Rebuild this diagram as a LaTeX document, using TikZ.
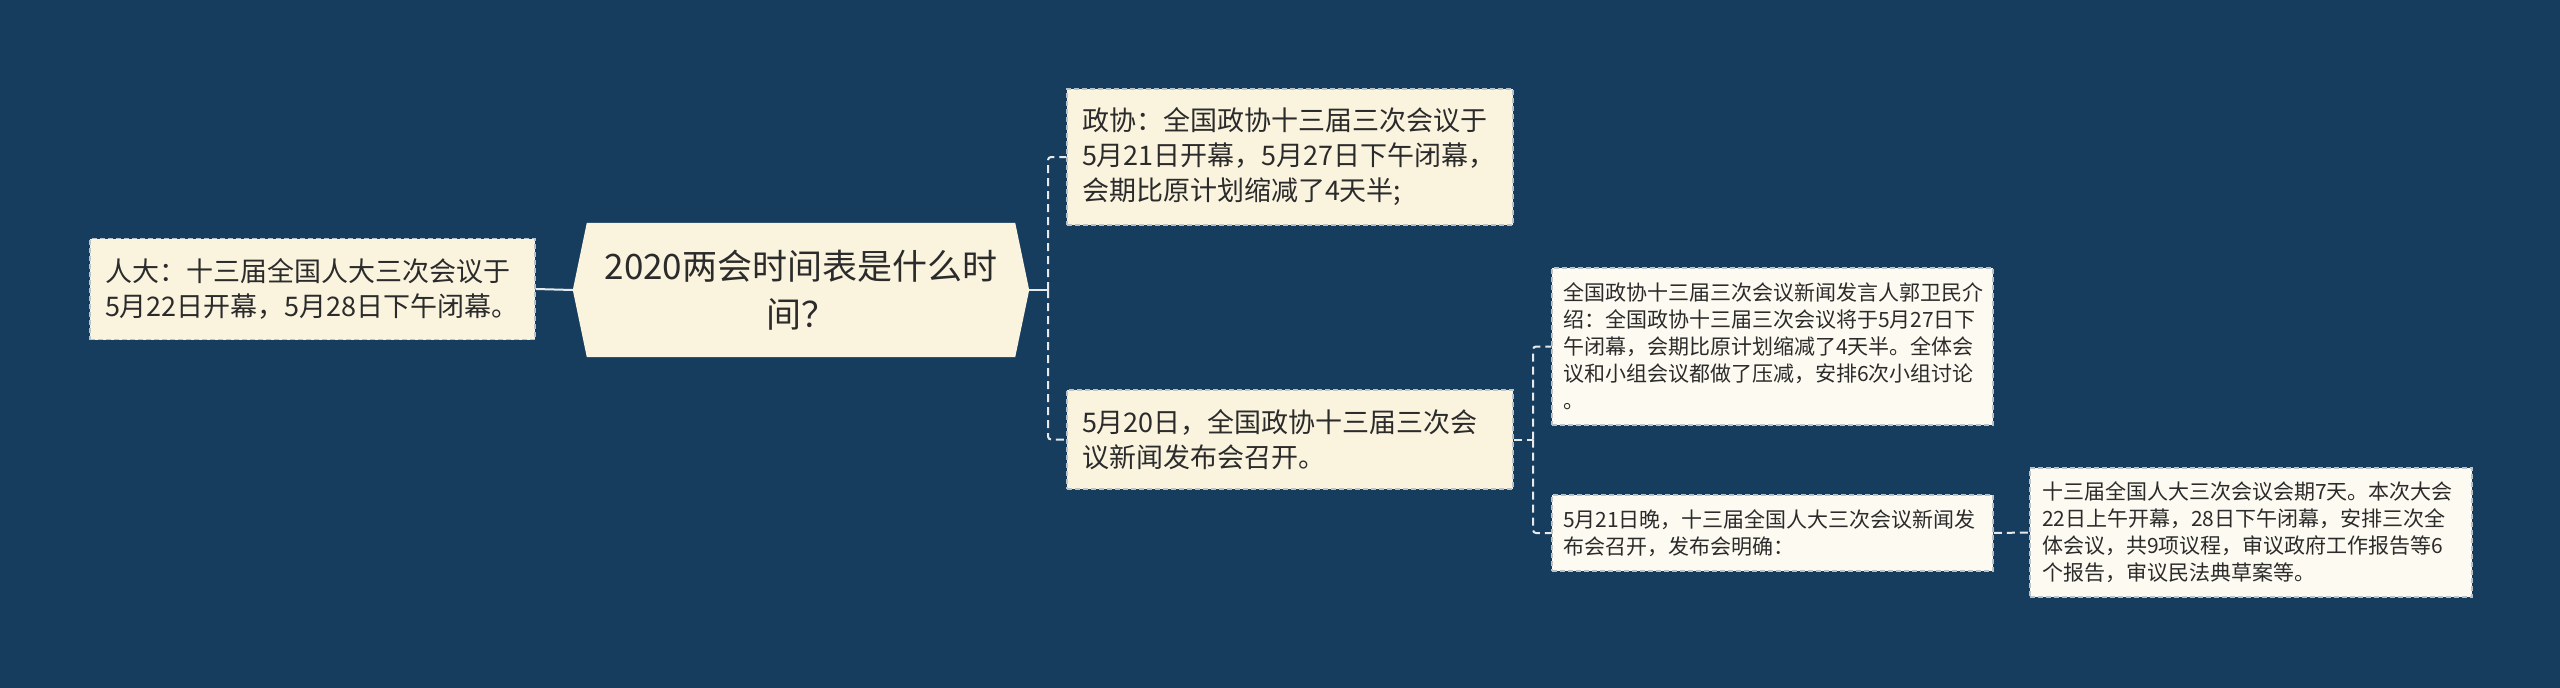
\documentclass[tikz,border=0pt]{standalone}
\usepackage{fontspec}
\setmainfont{Noto Sans CJK SC}
\usetikzlibrary{backgrounds}
\definecolor{bg}{HTML}{173D5E}
\definecolor{cream}{HTML}{FAF4DF}
\definecolor{paper}{HTML}{FDFBF1}
\definecolor{ink}{HTML}{2B2B2B}
\definecolor{edge}{HTML}{B9C2C8}
\definecolor{wire}{HTML}{E6EAEC}
\begin{document}
\begin{tikzpicture}[x=1pt,y=-1pt,
  box/.style={draw=edge, line width=1.5pt, dash pattern=on 5pt off 3pt, inner ysep=0pt, align=left, text=ink, anchor=center},
  big/.style={box, fill=cream, font=\fontsize{27}{35}\selectfont, inner xsep=15pt},
  small/.style={box, fill=paper, font=\fontsize{21}{27}\selectfont, inner xsep=11pt},
  wirestyle/.style={draw=wire, line width=2pt},
  dwire/.style={wirestyle, dash pattern=on 8pt off 5pt}]
\begin{scope}[on background layer]
  \fill[bg] (0,0) rectangle (2560,688);
\end{scope}
\useasboundingbox (0,0) rectangle (2560,688);

\node[big, text width=415pt, minimum height=101pt] (L) at (312.5,289)
  {人大：十三届全国人大三次会议于\\5月22日开幕，5月28日下午闭幕。};

\node[inner sep=0pt, minimum width=428pt, minimum height=134pt, text width=428pt,
  align=center, text=ink, font=\fontsize{35}{48}\selectfont] (H) at (801,290)
  {2020两会时间表是什么时\\间？};
\begin{scope}[on background layer]
  \fill[cream] ([xshift=-14pt]H.west) -- (H.north west) -- (H.north east)
    -- ([xshift=14pt]H.east) -- (H.south east) -- (H.south west) -- cycle;
\end{scope}

\node[big, text width=416pt, minimum height=136pt] (Z) at (1290,157)
  {政协：全国政协十三届三次会议于\\5月21日开幕，5月27日下午闭幕，\\会期比原计划缩减了4天半;};
\node[big, text width=416pt, minimum height=99pt] (P) at (1290,439.5)
  {5月20日，全国政协十三届三次会\\议新闻发布会召开。};

\node[small, text width=419pt, minimum height=157pt] (G) at (1772.5,346.5)
  {全国政协十三届三次会议新闻发言人郭卫民介\\绍：全国政协十三届三次会议将于5月27日下\\午闭幕，会期比原计划缩减了4天半。全体会\\议和小组会议都做了压减，安排6次小组讨论\\。};
\node[small, text width=419pt, minimum height=76pt] (W) at (1772.5,533)
  {5月21日晚，十三届全国人大三次会议新闻发\\布会召开，发布会明确：};
\node[small, inner xsep=12pt, text width=418pt, minimum height=129pt] (S) at (2251,532.5)
  {十三届全国人大三次会议会期7天。本次大会\\22日上午开幕，28日下午闭幕，安排三次全\\体会议，共9项议程，审议政府工作报告等6\\个报告，审议民法典草案等。};

\coordinate (j1) at (1048,290);
\coordinate (j2) at (1533,439.5);

\draw[wirestyle] (L.east) -- ([xshift=-14pt]H.west);
\draw[wirestyle] ([xshift=14pt]H.east) -- (j1);
\draw[dwire, rounded corners=3pt] (j1) |- (Z.west);
\draw[dwire, rounded corners=3pt] (j1) |- (P.west);
\draw[dwire] (P.east) -- (j2);
\draw[dwire, rounded corners=3pt] (j2) |- (G.west);
\draw[dwire, rounded corners=3pt] (j2) |- (W.west);
\draw[dwire] (W.east) -- (S.west);
\end{tikzpicture}
\end{document}
